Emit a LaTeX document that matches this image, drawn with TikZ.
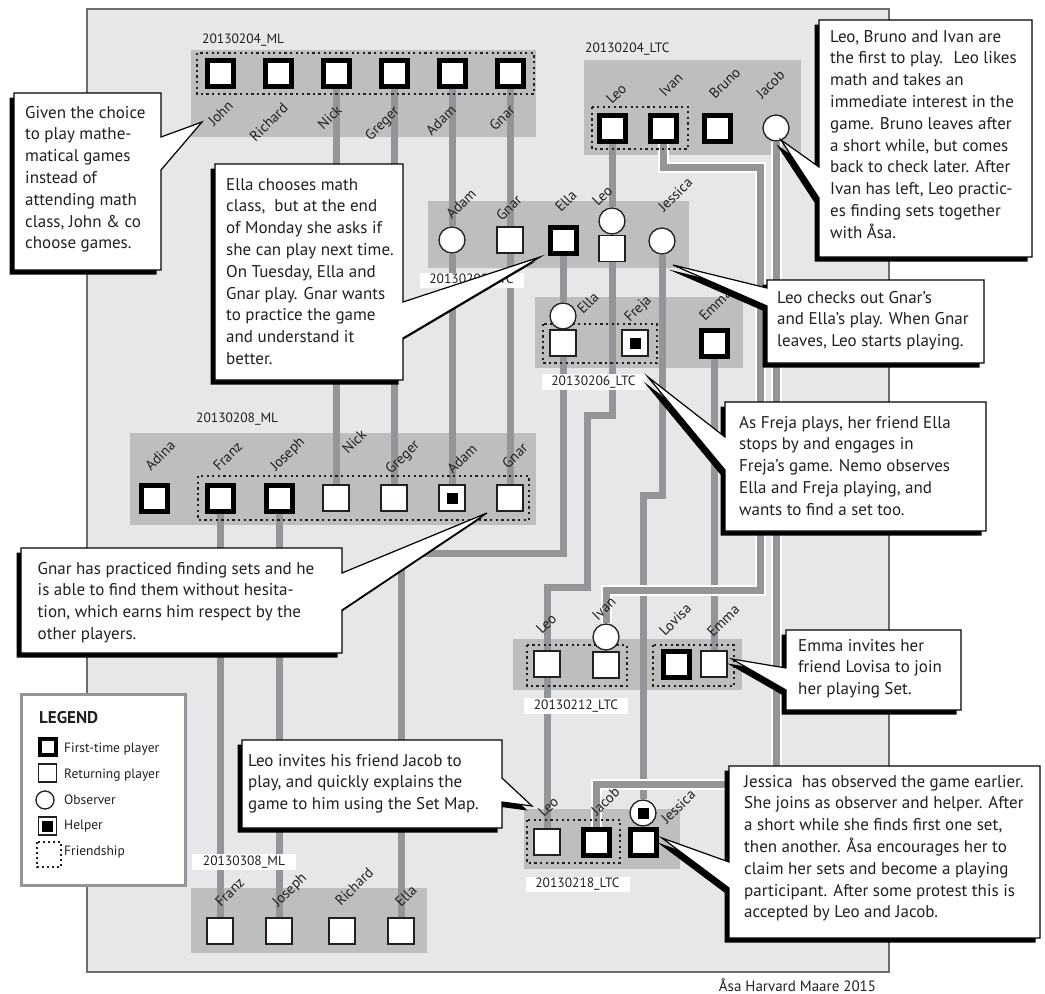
\documentclass[tikz,border=0pt]{standalone}
\usepackage{fontspec}
\setmainfont{PT Sans}
\usetikzlibrary{shadows}
\definecolor{paper}{HTML}{E6E7E8}
\definecolor{grp}{HTML}{BCBEC0}
\definecolor{railgray}{HTML}{939598}
\definecolor{ink}{HTML}{231F20}
\definecolor{frameline}{HTML}{6D6E71}
\pgfdeclarelayer{back}
\pgfdeclarelayer{tracks}
\pgfdeclarelayer{ties}
\pgfdeclarelayer{front}
\pgfsetlayers{back,tracks,ties,main,front}
\newcommand{\helpdot}{\fill[black] (path picture bounding box.center) +(-5.5pt,-5.5pt) rectangle +(5.5pt,5.5pt);}
\tikzset{
  first/.style={draw=black,line width=5pt,fill=white,minimum size=26pt,inner sep=0pt},
  again/.style={draw=ink,line width=1.5pt,fill=white,minimum size=26pt,inner sep=0pt},
  watcher/.style={circle,draw=ink,line width=1.3pt,fill=white,minimum size=26pt,inner sep=0pt},
  helper/.style={again,path picture={\helpdot}},
  helpwatch/.style={watcher,path picture={\helpdot}},
  who/.style={rotate=45,inner sep=0pt,font=\fontsize{14.5}{16}\selectfont,text=ink},
  date/.style={inner sep=0pt,font=\fontsize{13.5}{16}\selectfont,text=ink},
  datebox/.style={date,fill=white,minimum width=104pt,minimum height=15.5pt},
  friends/.style={draw=ink,line width=2.3pt,dash pattern=on 2.3pt off 3.3pt},
  rail/.style={draw=railgray,line width=7pt},
  railwhite/.style={rail,preaction={draw=white,line width=11pt}},
  callout/.style={fill=white,draw=black,line width=1.2pt,
    drop shadow={shadow xshift=-4.5pt,shadow yshift=-4.5pt,fill=black,opacity=1}},
  talk/.style={inner sep=0pt,align=left,anchor=north west,text=ink,
    font=\fontsize{17}{21.8}\selectfont},
  keytext/.style={inner sep=0pt,anchor=west,text=ink,font=\fontsize{13.5}{16}\selectfont}
}
\begin{document}
\begin{tikzpicture}[x=1pt,y=-1pt]
  \useasboundingbox (0,0) rectangle (1045,994);
  \begin{pgfonlayer}{back}
    \filldraw[fill=paper,draw=frameline,line width=1.5pt] (87,9) rectangle (889,972);
    \fill[grp] (191,50) rectangle (536,137);
    \fill[grp] (428,201) rectangle (689,268);
    \fill[grp] (584,60) rectangle (801,155);
    \fill[grp] (535,297) rectangle (743,368);
    \fill[grp] (130,433) rectangle (536,525);
    \fill[grp] (191,888) rectangle (427,953);
    \fill[grp] (513,639) rectangle (742,690);
    \fill[grp] (524,809) rectangle (680,869);
  \end{pgfonlayer}

  % 20130204_ML
  \node[date,anchor=west] (d1) at (202,40) {20130204\_ML};
  \node[first] (g1john) at (220,73) {};
  \node[first] (g1richard) at (278,73) {};
  \node[first] (g1nick) at (336,73) {};
  \node[first] (g1greger) at (394,73) {};
  \node[first] (g1adam) at (452,73) {};
  \node[first] (g1gnar) at (510,73) {};
  \node[who,anchor=base east] (w1john) at (234,107) {John};
  \node[who,anchor=base east] (w1richard) at (289,109) {Richard};
  \node[who,anchor=base east] (w1nick) at (343,111) {Nick};
  \node[who,anchor=base east] (w1greger) at (400,112) {Greger};
  \node[who,anchor=base east] (w1adam) at (457,111) {Adam};
  \node[who,anchor=base east] (w1gnar) at (516,111) {Gnar};

  % 20130205_LTC
  \node[datebox] (d2) at (471.5,280.5) {20130205\_LTC};
  \node[watcher] (g2adam) at (452,240) {};
  \node[again] (g2gnar) at (510,240) {};
  \node[first] (g2ella) at (563,240) {};
  \node[watcher] (g2leow) at (612,221) {};
  \node[again] (g2leo) at (612,248.5) {};
  \node[watcher] (g2jessica) at (662,241) {};
  \node[who,anchor=base west] (w2adam) at (452,220) {Adam};
  \node[who,anchor=base west] (w2gnar) at (502,222) {Gnar};
  \node[who,anchor=base west] (w2ella) at (561,213) {Ella};
  \node[who,anchor=base west] (w2leo) at (598,207) {Leo};
  \node[who,anchor=base west] (w2jessica) at (664,213) {Jessica};

  % 20130204_LTC
  \node[date,anchor=west] (d3) at (585,49) {20130204\_LTC};
  \node[first] (g3leo) at (612,128) {};
  \node[first] (g3ivan) at (663,128) {};
  \node[first] (g3bruno) at (717,128) {};
  \node[watcher] (g3jacob) at (776,128) {};
  \node[who,anchor=base west] (w3leo) at (612,105) {Leo};
  \node[who,anchor=base west] (w3ivan) at (665,98) {Ivan};
  \node[who,anchor=base west] (w3bruno) at (715,100) {Bruno};
  \node[who,anchor=base west] (w3jacob) at (762,100) {Jacob};

  % 20130206_LTC
  \node[datebox] (d4) at (593.5,382) {20130206\_LTC};
  \node[watcher] (g4ellaw) at (563,316) {};
  \node[again] (g4ella) at (563,343) {};
  \node[helper] (g4freja) at (635,343) {};
  \node[first] (g4emma) at (714,343) {};
  \node[who,anchor=base west] (w4ella) at (583,315) {Ella};
  \node[who,anchor=base west] (w4freja) at (630,323) {Freja};
  \node[who,anchor=base west] (w4emma) at (705,322) {Emma};

  % 20130208_ML
  \node[date,anchor=west] (d5) at (196,419) {20130208\_ML};
  \node[first] (g5adina) at (154,498) {};
  \node[first] (g5franz) at (220,498) {};
  \node[first] (g5joseph) at (279,498) {};
  \node[again] (g5nick) at (336,498) {};
  \node[again] (g5greger) at (394,498) {};
  \node[helper] (g5adam) at (452,498) {};
  \node[again] (g5gnar) at (510,498) {};
  \node[who,anchor=base west] (w5adina) at (151,472) {Adina};
  \node[who,anchor=base west] (w5franz) at (219,472) {Franz};
  \node[who,anchor=base west] (w5joseph) at (276,472) {Joseph};
  \node[who,anchor=base west] (w5nick) at (348,455) {Nick};
  \node[who,anchor=base west] (w5greger) at (391,475) {Greger};
  \node[who,anchor=base west] (w5adam) at (453,475) {Adam};
  \node[who,anchor=base west] (w5gnar) at (508,470) {Gnar};

  % 20130308_ML
  \node[datebox] (d6) at (244,862) {20130308\_ML};
  \node[again] (g6franz) at (220,931) {};
  \node[again] (g6joseph) at (279,931) {};
  \node[again] (g6richard) at (342,931) {};
  \node[again] (g6ella) at (401,931) {};
  \node[who,anchor=base west] (w6franz) at (221,908) {Franz};
  \node[who,anchor=base west] (w6joseph) at (278,908) {Joseph};
  \node[who,anchor=base west] (w6richard) at (341,907) {Richard};
  \node[who,anchor=base west] (w6ella) at (401,908) {Ella};

  % 20130212_LTC
  \node[datebox] (d7) at (576,706) {20130212\_LTC};
  \node[again] (g7leo) at (547,664) {};
  \node[watcher] (g7ivanw) at (606,637) {};
  \node[again] (g7ivan) at (606,665) {};
  \node[first] (g7lovisa) at (676,664) {};
  \node[again] (g7emma) at (714,664) {};
  \node[who,anchor=base west] (w7leo) at (542,635) {Leo};
  \node[who,anchor=base west] (w7ivan) at (598,622) {Ivan};
  \node[who,anchor=base west] (w7lovisa) at (665,637) {Lovisa};
  \node[who,anchor=base west] (w7emma) at (713,638) {Emma};

  % 20130218_LTC
  \node[datebox] (d8) at (577.5,884.5) {20130218\_LTC};
  \node[again] (g8leo) at (547,842) {};
  \node[first] (g8jacob) at (596,842) {};
  \node[helpwatch] (g8jessw) at (643,813) {};
  \node[first] (g8jessica) at (643,842) {};
  \node[who,anchor=base west] (w8leo) at (544,818) {Leo};
  \node[who,anchor=base west] (w8jacob) at (597,817) {Jacob};
  \node[who,anchor=base west] (w8jessica) at (667,825) {Jessica};

  \begin{pgfonlayer}{ties}
    \draw[friends] (197,53) rectangle (534,94);
    \draw[friends] (592,107) rectangle (688,149);
    \draw[friends] (543,324) rectangle (657,363);
    \draw[friends] (198,476) rectangle (529,520);
    \draw[friends] (527,645) rectangle (627,686);
    \draw[friends] (653,645) rectangle (734,686);
    \draw[friends] (527,820) rectangle (620,863);
  \end{pgfonlayer}

  \coordinate (ellabend) at (401,553);
  \coordinate (leobendA) at (587,415);
  \coordinate (leobendB) at (547,587);
  \coordinate (jessbend) at (643,495);
  \coordinate (ivanbendA) at (760,167);
  \coordinate (ivanbendB) at (606,590);
  \coordinate (jacobbend) at (596,784);
  \begin{pgfonlayer}{tracks}
    \draw[rail] (g1nick) -- (g5nick);
    \draw[rail] (g1greger) -- (g5greger);
    \draw[rail] (g1adam) -- (g2adam) -- (g5adam);
    \draw[rail] (g1gnar) -- (g2gnar) -- (g5gnar);
    \draw[rail] (g5franz) -- (g6franz);
    \draw[rail] (g5joseph) -- (g6joseph);
    \draw[rail] (g2ella) -- (g4ellaw);
    \draw[rail] (g4ella) |- (ellabend) -- (g6ella);
    \draw[rail] (g3leo) -- (g2leow);
    \draw[rail] (g2leo) |- (leobendA) |- (leobendB) -- (g7leo);
    \draw[rail] (g7leo) -- (g8leo);
    \draw[rail] (g2jessica) |- (jessbend) -- (g8jessw);
    \draw[rail] (g4emma) -- (g7emma);
    \draw[railwhite] (g3ivan) |- (ivanbendA) |- (ivanbendB) -- (g7ivanw);
    \draw[railwhite] (g3jacob) |- (jacobbend) -- (g8jacob);
  \end{pgfonlayer}

  % legend
  \filldraw[draw=railgray,line width=3pt,fill=white] (21,694) rectangle (185,885);
  \node[inner sep=0pt,anchor=west,text=ink,font=\bfseries\fontsize{17}{20}\selectfont] (keyhead) at (39,718) {LEGEND};
  \node[first,minimum size=16pt,line width=4pt] (keyfirst) at (47.5,747) {};
  \node[again,minimum size=18pt,line width=1.3pt] (keyagain) at (47.5,773) {};
  \node[watcher,minimum size=18pt] (keywatch) at (45,800) {};
  \node[helper,minimum size=18pt,line width=1.3pt] (keyhelp) at (47.5,826) {};
  \draw[friends,line width=2pt,dash pattern=on 2pt off 3pt] (37,842) rectangle (61,867);
  \node[keytext] (keyfirstt) at (64,749) {First-time player};
  \node[keytext] (keyagaint) at (64,775) {Returning player};
  \node[keytext] (keywatcht) at (64,800) {Observer};
  \node[keytext] (keyhelpt) at (64,826) {Helper};
  \node[keytext] (keyfriendt) at (64,852) {Friendship};

  \node[inner sep=0pt,text=ink,font=\fontsize{15}{18}\selectfont] (credit) at (797.5,985) {Åsa Harvard Maare 2015};

  \begin{pgfonlayer}{front}
    \path[callout] (14,93) -- (161,93) -- (161,137) -- (202,122) -- (161,170) -- (161,270) -- (14,270) -- cycle;
    \node[talk] (notejohn) at (25,102.7) {\strut Given the choice\\to play mathe-\\matical games\\instead of\\attending math\\class, John \& co\\choose games.};
    \path[callout] (215,164) -- (403,164) -- (403,302) -- (540,257) -- (403,338) -- (403,380) -- (215,380) -- cycle;
    \node[talk] (noteella) at (226,174.7) {\strut Ella chooses math\\class,~ but at the end\\of Monday she asks if\\she can play next time.\\On Tuesday, Ella and\\Gnar play. Gnar wants\\to practice the game\\and understand it\\better.};
    \path[callout] (819,20) -- (1032,20) -- (1032,257) -- (819,257) -- (819,198) -- (781,140) -- (819,167) -- cycle;
    \node[talk] (notefirst) at (830,26.7) {\strut Leo, Bruno and Ivan are\\the first to play.~ Leo likes\\math and takes an\\immediate interest in the\\game. Bruno leaves after\\a short while, but comes\\back to check later. After\\Ivan has left, Leo practic-\\es finding sets together\\with Åsa.};
    \path[callout] (767,280) -- (984,280) -- (984,363) -- (767,363) -- (767,306) -- (673,265) -- (767,288) -- cycle;
    \node[talk] (noteleo) at (777,287.7) {\strut Leo checks out Gnar’s\\and Ella’s play. When Gnar\\leaves, Leo starts playing.};
    \path[callout] (725,402) -- (986,402) -- (986,531) -- (725,531) -- (725,470) -- (648,377) -- (725,437) -- cycle;
    \node[talk] (notefreja) at (739,412.7) {\strut As Freja plays, her friend Ella\\stops by and engages in\\Freja’s game. Nemo observes\\Ella and Freja playing, and\\wants to find a set too.};
    \path[callout] (21,548) -- (342,548) -- (342,573) -- (487,513) -- (342,610) -- (342,653) -- (21,653) -- cycle;
    \node[talk] (notegnar) at (37.5,558.7) {\strut Gnar has practiced finding sets and he\\is able to find them without hesita-\\tion, which earns him respect by the\\other players.};
    \path[callout] (242,740) -- (502,740) -- (502,778) -- (532,806) -- (502,802) -- (502,828) -- (242,828) -- cycle;
    \node[talk] (notejacob) at (248,750.7) {\strut Leo invites his friend Jacob to\\play, and quickly explains the\\game to him using the Set Map.};
    \path[callout] (786,630) -- (961,630) -- (961,710) -- (786,710) -- (786,690) -- (732,659) -- (786,668) -- cycle;
    \node[talk] (noteemma) at (798,635.7) {\strut Emma invites her\\friend Lovisa to join\\her playing Set.};
    \path[callout] (729,766) -- (1040,766) -- (1040,938) -- (729,938) -- (729,888) -- (662,838) -- (729,862) -- cycle;
    \node[talk] (notejessica) at (744,771.7) {\strut Jessica~ has observed the game earlier.\\She joins as observer and helper. After\\a short while she finds first one set,\\then another. Åsa encourages her to\\claim her sets and become a playing\\participant. After some protest this is\\accepted by Leo and Jacob.};
  \end{pgfonlayer}
\end{tikzpicture}
\end{document}
